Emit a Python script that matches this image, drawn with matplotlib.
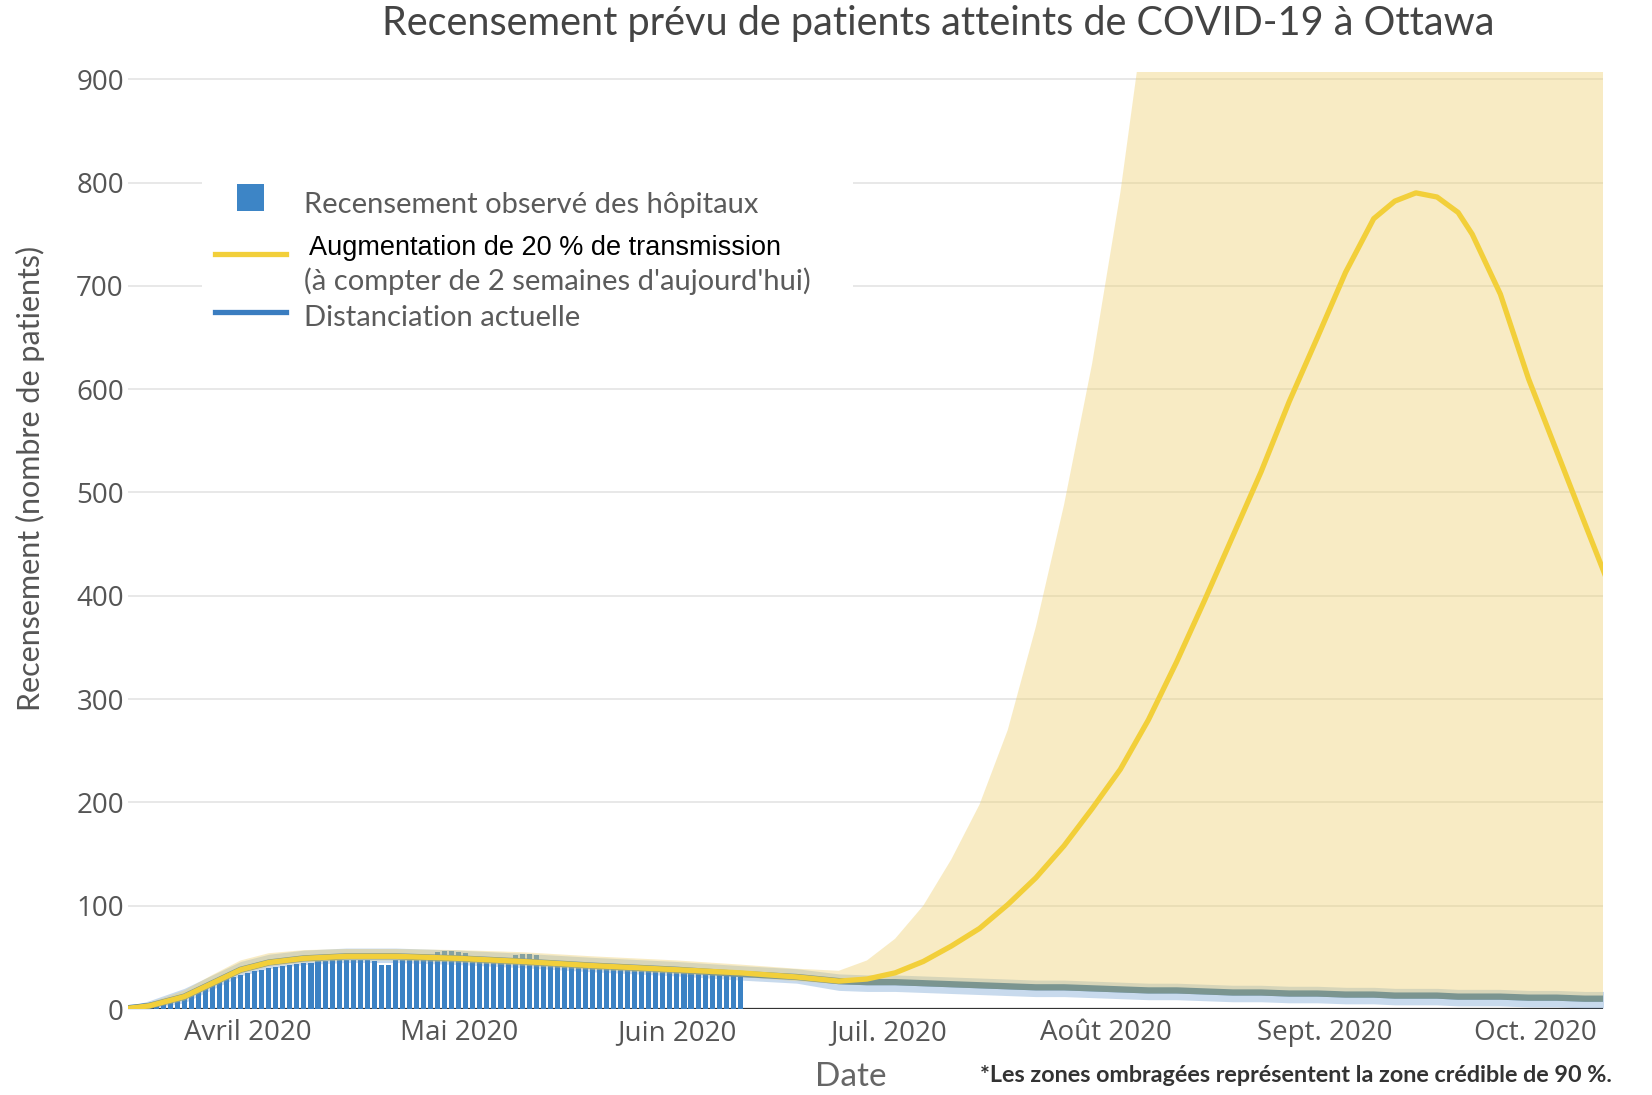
import numpy as np
import pandas as pd
import matplotlib
matplotlib.use("Agg")
import matplotlib.pyplot as plt
from matplotlib.patches import Rectangle
from matplotlib.lines import Line2D

# observed hospital census, one bar per day starting 19 March 2020
census_start = "2020-03-19"
census = [5, 7, 9, 12, 14, 17, 19, 22, 24, 27, 29, 31, 33,
          35, 37, 38, 40, 41, 42, 43, 44, 45, 45, 46, 46, 47, 47, 47,
          47, 47, 47, 46, 43, 43, 47, 47, 47, 47, 47, 49, 55, 56, 56,
          55, 54, 49, 47, 47, 46, 46, 46, 52, 53, 53, 52, 46, 45, 45,
          44, 44, 43, 43, 42, 42, 41, 41, 40, 40, 39, 39, 38, 37, 37, 36,
          36, 35, 35, 34, 34, 33, 33, 32, 32, 31]

# projection dates
proj_dates = ["2020-03-14", "2020-03-18", "2020-03-23", "2020-03-27", "2020-03-31",
              "2020-04-04", "2020-04-09", "2020-04-15", "2020-04-22", "2020-05-01",
              "2020-05-10", "2020-05-20", "2020-06-01", "2020-06-10", "2020-06-18",
              "2020-06-24", "2020-06-28", "2020-07-02", "2020-07-06", "2020-07-10",
              "2020-07-14", "2020-07-18", "2020-07-22", "2020-07-26", "2020-07-30",
              "2020-08-03", "2020-08-07", "2020-08-11", "2020-08-15", "2020-08-19",
              "2020-08-23", "2020-08-27", "2020-08-31", "2020-09-04", "2020-09-08",
              "2020-09-11", "2020-09-14", "2020-09-17", "2020-09-20", "2020-09-22",
              "2020-09-26", "2020-09-30", "2020-10-04", "2020-10-08", "2020-10-11"]

# +20 % transmission scenario
inc20_mid = [0, 3, 12, 25, 38, 45, 49, 51, 51, 49, 46, 42, 38, 35, 31,
             27, 29, 35, 46, 61, 78, 101, 127, 158, 194, 232, 280, 336, 396, 458,
             520, 588, 650, 713, 765, 782, 790, 786, 771, 750, 692, 610, 540, 470, 418]
inc20_lo = [0, 0, 8, 21, 34, 41, 45, 47, 47, 45, 42, 38, 34, 31, 27,
            24, 23, 23, 22, 21, 20, 19, 18, 18, 17, 16, 15, 15, 14, 13,
            13, 12, 12, 11, 11, 10, 10, 10, 9, 9, 9, 8, 8, 7, 7]
inc20_hi = [0, 6, 18, 33, 47, 54, 57, 58, 58, 57, 55, 51, 47, 43, 39,
            37, 47, 68, 100, 145, 198, 270, 370, 488, 625, 790, 990, 1300, 1600, 1600,
            1600, 1600, 1600, 1600, 1600, 1600, 1600, 1600, 1600, 1600, 1600, 1600, 1600, 1600, 1600]

# current distancing scenario
dist_mid = [0, 3, 12, 25, 38, 45, 49, 51, 51, 49, 46, 42, 38, 34, 31,
            27, 26, 26, 25, 24, 23, 22, 21, 21, 20, 19, 18, 18, 17, 16,
            16, 15, 15, 14, 14, 13, 13, 13, 12, 12, 12, 11, 11, 10, 10]
dist_lo = [0, 0, 6, 19, 32, 39, 43, 45, 45, 43, 40, 36, 32, 28, 25,
           18, 17, 17, 16, 15, 14, 13, 12, 12, 11, 10, 9, 9, 8, 7,
           7, 6, 6, 5, 5, 4, 4, 4, 3, 3, 3, 2, 2, 1, 1]
dist_hi = [0, 8, 20, 33, 46, 53, 57, 59, 59, 57, 54, 50, 46, 42, 39,
           34, 33, 33, 32, 31, 30, 29, 28, 28, 27, 26, 25, 25, 24, 23,
           23, 22, 22, 21, 21, 20, 20, 20, 19, 19, 19, 18, 18, 17, 17]

month_ticks = ["2020-04-01", "2020-05-01", "2020-06-01", "2020-07-01",
               "2020-08-01", "2020-09-01", "2020-10-01"]
month_labels = ["Avril 2020", "Mai 2020", "Juin 2020", "Juil. 2020",
                "Août 2020", "Sept. 2020", "Oct. 2020"]
y_ticks = [0, 100, 200, 300, 400, 500, 600, 700, 800, 900]

W, H = 1652, 1095
fig = plt.figure(figsize=(W / 100, H / 100), dpi=100)
ax = fig.add_axes([128 / W, 1 - 1009 / H, (1603 - 128) / W, (1009 - 72) / H])

bar_dates = pd.date_range(census_start, periods=len(census), freq="D")
pdates = pd.to_datetime(proj_dates)

YELLOW = "#f2cf3a"
BLUE = "#3b82c4"

ax.axhline(0, color="#333333", lw=1.6, zorder=1)
ax.bar(bar_dates, census, width=0.72, color=BLUE, zorder=2)

ax.fill_between(pdates, dist_lo, dist_hi, color="#4a86c5", alpha=0.3, lw=0, zorder=3)
ax.plot(pdates, dist_mid, color="#2f6fa8", lw=4.5, zorder=4)
ax.fill_between(pdates, inc20_lo, inc20_hi, color="#efcf6c", alpha=0.4, lw=0, zorder=5)
ax.plot(pdates, inc20_mid, color=YELLOW, lw=3.8, zorder=6, solid_joinstyle="round")

ax.set_xlim(pd.Timestamp("2020-03-15"), pd.Timestamp("2020-10-10 14:00"))
ax.set_ylim(0, 907)
ax.set_yticks(y_ticks)
ax.set_xticks(pd.to_datetime(month_ticks))
ax.set_xticklabels(month_labels)
ax.grid(axis="y", color="#e6e6e6", lw=1.3, zorder=0)
ax.set_axisbelow(True)
for s in ax.spines.values():
    s.set_visible(False)
ax.tick_params(axis="both", length=0, labelcolor="#555555", labelsize=20)
ax.tick_params(axis="y", pad=3)
ax.tick_params(axis="x", pad=7)
for lab in ax.get_xticklabels() + ax.get_yticklabels():
    lab.set_family("Open Sans")


def fx(x):
    return x / W


def fy(y):
    return 1 - y / H


# title and axis labels
fig.text(fx(938), fy(23), "Recensement prévu de patients atteints de COVID-19 à Ottawa",
         ha="center", va="center", family="Lato", fontsize=28.5, color="#444444")
fig.text(fx(30), fy(478), "Recensement (nombre de patients)", rotation=90,
         ha="center", va="center", family="Lato", fontsize=22, color="#555555")
fig.text(fx(851), fy(1077), "Date", ha="center", va="center",
         family="Lato", fontsize=24, color="#666666")
fig.text(fx(980), fy(1076), "*Les zones ombragées représentent la zone crédible de 90 %.",
         ha="left", va="center", family="Lato", fontweight="bold",
         fontsize=16.8, color="#333333")

# legend box
fig.add_artist(Rectangle((fx(202), fy(337)), 651 / W, 160 / H, transform=fig.transFigure,
                         facecolor="white", edgecolor="none", zorder=10))
fig.add_artist(Rectangle((fx(236.5), fy(210.5)), 27 / W, 27 / H, transform=fig.transFigure,
                         facecolor="#3d85c6", edgecolor="none", zorder=11))
fig.add_artist(Line2D([fx(215), fx(286)], [fy(254), fy(254)], transform=fig.transFigure,
                      color=YELLOW, lw=3.8, zorder=11))
fig.add_artist(Line2D([fx(215), fx(286)], [fy(312), fy(312)], transform=fig.transFigure,
                      color="#3a7dc0", lw=3.8, zorder=11))
fig.text(fx(304), fy(205), "Recensement observé des hôpitaux", ha="left", va="center",
         family="Lato", fontsize=21, color="#5b5b5b", zorder=12)
fig.text(fx(309), fy(248), "Augmentation de 20 % de transmission", ha="left", va="center",
         family="Liberation Sans", fontsize=19.5, color="black", zorder=12)
fig.text(fx(304), fy(281), "(à compter de 2 semaines d'aujourd'hui)", ha="left", va="center",
         family="Lato", fontsize=21, color="#5b5b5b", zorder=12)
fig.text(fx(304), fy(318), "Distanciation actuelle", ha="left", va="center",
         family="Lato", fontsize=21, color="#5b5b5b", zorder=12)

fig.savefig("out.png", dpi=100)
